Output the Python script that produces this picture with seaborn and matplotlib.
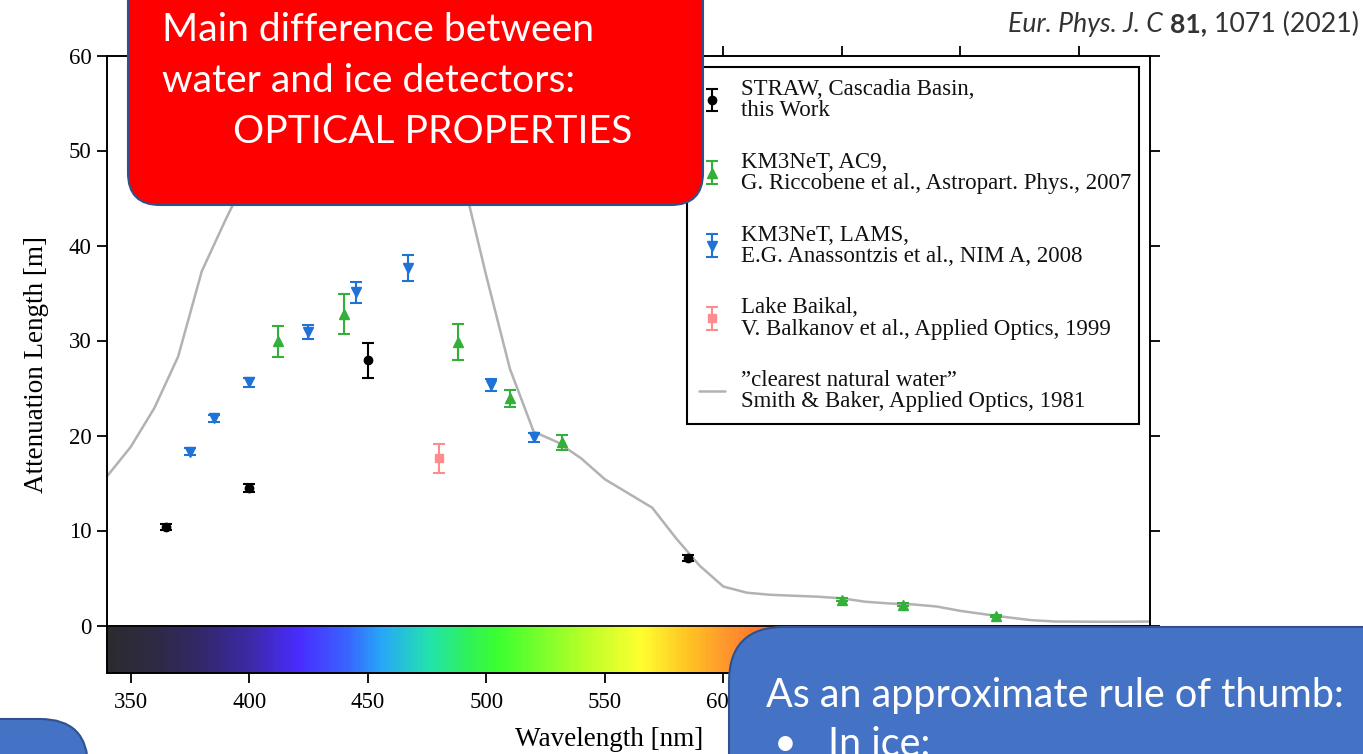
import numpy as np
import matplotlib
matplotlib.use("Agg")
import matplotlib.pyplot as plt
import seaborn as sns
from matplotlib.colors import LinearSegmentedColormap
from matplotlib.patches import FancyBboxPatch

# ---------------- data ----------------
curve_wl = list(range(340, 781, 10))
curve_len = [15.7, 18.8, 22.9, 28.3, 37.3, 42.7, 47.8, 51.0, 54.3, 58.1,
             58.8, 59.5, 56.5, 57.1, 51.8, 47.2, 36.8, 27.0, 20.4, 19.3,
             17.6, 15.4, 13.9, 12.4, 9.2, 6.3, 4.1, 3.45, 3.23, 3.13,
             3.03, 2.86, 2.50, 2.32, 2.22, 2.00, 1.54, 1.19, 0.86, 0.56,
             0.42, 0.41, 0.39, 0.40, 0.42]

straw_wl = [365, 400, 450, 585]
straw_len = [10.4, 14.5, 27.9, 7.1]
straw_err = [0.3, 0.4, 1.8, 0.3]

ac9_wl = [412, 440, 488, 510, 532, 650, 676, 715]
ac9_len = [29.9, 32.8, 29.8, 23.9, 19.3, 2.7, 2.2, 1.0]
ac9_err = [1.6, 2.1, 1.9, 0.9, 0.8, 0.15, 0.12, 0.1]

lams_wl = [375, 385, 400, 425, 445, 467, 502, 520]
lams_len = [18.3, 21.8, 25.6, 30.9, 35.1, 37.6, 25.3, 19.8]
lams_err = [0.35, 0.35, 0.5, 0.7, 1.1, 1.35, 0.6, 0.5]

baikal_wl = [480]
baikal_len = [17.6]
baikal_err = [1.5]

labels = [
    "STRAW, Cascadia Basin,\nthis Work",
    "KM3NeT, AC9,\nG. Riccobene et al., Astropart. Phys., 2007",
    "KM3NeT, LAMS,\nE.G. Anassontzis et al., NIM A, 2008",
    "Lake Baikal,\nV. Balkanov et al., Applied Optics, 1999",
    "\u201dclearest natural water\u201d\nSmith & Baker, Applied Optics, 1981",
]

x_ticks = [350, 400, 450, 500, 550, 600, 650, 700, 750]
y_ticks = [0, 10, 20, 30, 40, 50, 60]

spectrum_wl = [340, 360, 380, 400, 420, 440, 455, 475, 492, 505, 540, 565,
               585, 600, 620, 650, 700, 780]
spectrum_col = ['#2c2b30', '#2f2a45', '#33286e', '#3c2aa8', '#4a2cff', '#3a62ff',
                '#28a6f8', '#22e2b0', '#30f25a', '#3cff30', '#b4ff28', '#ffff30',
                '#ffc424', '#ff9a2c', '#ff6a30', '#ff3a22', '#e01414', '#8c1010']

box_title = ["Main difference between", "water and ice detectors:", "OPTICAL PROPERTIES"]
box_rule = "As an approximate rule of thumb:"
box_ice = "In ice:"
cite_parts = ["Eur. Phys. J. C", "81,", "1071 (2021)"]

# ---------------- style ----------------
sns.set_theme(style="ticks")
plt.rcParams['font.family'] = ['Liberation Serif', 'DejaVu Serif']

W, H = 1363, 754
fig = plt.figure(figsize=(W / 100, H / 100), dpi=100)
fig.patch.set_facecolor('white')
L, R, T, B = 107, 1150, 55.5, 673
ax = fig.add_axes([L / W, 1 - B / H, (R - L) / W, (B - T) / H])
ax.set_facecolor('white')

# spectrum band
cmap = LinearSegmentedColormap.from_list(
    'spec', [((w - 340) / 440, c) for w, c in zip(spectrum_wl, spectrum_col)])
ax.imshow(np.linspace(0, 1, 600)[None, :], extent=(340, 780, -5, 0),
          aspect='auto', cmap=cmap, zorder=0, interpolation='bilinear')
ax.axhline(0, color='black', lw=1.2, zorder=1)

# curve
sns.lineplot(x=curve_wl, y=curve_len, ax=ax, color='#b2b2b2', lw=1.8,
             zorder=2, legend=False)
h_curve = ax.lines[-1]

eb = dict(capsize=4, capthick=1.5, elinewidth=1.5, zorder=4, ls='none')
h_straw = ax.errorbar(straw_wl, straw_len, yerr=straw_err, fmt='o', color='black', ms=6, **eb)
h_ac9 = ax.errorbar(ac9_wl, ac9_len, yerr=ac9_err, fmt='^', color='#33b03a', ms=6.5, **eb)
h_lams = ax.errorbar(lams_wl, lams_len, yerr=lams_err, fmt='v', color='#1f72d6', ms=6.5, **eb)
h_baik = ax.errorbar(baikal_wl, baikal_len, yerr=baikal_err, fmt='s', color='#ff8c8c', ms=5.5, **eb)

ax.set_xlim(340, 780)
ax.set_ylim(-5, 60)
ax.set_xticks(x_ticks)
ax.set_yticks(y_ticks)
for s in ax.spines.values():
    s.set_linewidth(1.4)
    s.set_color('black')
ax.tick_params(axis='both', which='both', direction='out', top=True, right=True,
               length=7, width=1.3, labelsize=16.5, colors='black')
ax.tick_params(axis='x', pad=7)
ax.tick_params(axis='y', pad=4)
ax.set_xlabel('Wavelength [nm]', fontsize=19.5, color='black')
ax.set_ylabel('Attenuation Length [m]', fontsize=19.5, color='black')
ax.xaxis.set_label_coords(0.481, -0.087)
ax.yaxis.set_label_coords(-0.056, 0.5)

leg = ax.legend([h_straw, h_ac9, h_lams, h_baik, h_curve], labels,
                loc='upper left', bbox_to_anchor=(0.5561, 0.4146, 0.4334, 0.5668),
                mode='expand', borderaxespad=0, frameon=True, fancybox=False,
                edgecolor='black', framealpha=1, fontsize=16.5, handlelength=1.15,
                handletextpad=0.7, labelspacing=1.33, borderpad=0.52)
leg.get_frame().set_linewidth(1.5)
for t in leg.get_texts():
    t.set_linespacing(1.02)
    t.set_color('#111111')

# ---------------- slide overlay ----------------
ov = fig.add_axes([0, 0, 1, 1], zorder=10)
ov.set_xlim(0, W)
ov.set_ylim(H, 0)
ov.axis('off')
ov.patch.set_alpha(0)

ov.add_patch(FancyBboxPatch((128, -60), 575, 265, boxstyle='round,pad=0,rounding_size=32',
                            fc='#ff0000', ec='#2f528f', lw=1.5))
ov.add_patch(FancyBboxPatch((729, 627), 720, 220, boxstyle='round,pad=0,rounding_size=55',
                            fc='#4472c4', ec='#2f528f', lw=1.5))
ov.add_patch(FancyBboxPatch((-150, 719), 238, 120, boxstyle='round,pad=0,rounding_size=48',
                            fc='#4472c4', ec='#2f528f', lw=1.5))

rend = fig.canvas.get_renderer()


def fit(t, width):
    bb = t.get_window_extent(renderer=rend)
    t.set_fontsize(t.get_fontsize() * width / bb.width)
    return t.get_fontsize()


sans = ['Lato', 'DejaVu Sans']
t1 = ov.text(162, 40.7, box_title[0], color='white', family=sans, fontsize=28, va='baseline')
fs = fit(t1, 432)
ov.text(162, 91.7, box_title[1], color='white', family=sans, fontsize=fs, va='baseline')
ov.text(233, 142.7, box_title[2], color='white', family=sans, fontsize=fs, va='baseline')

tr = ov.text(766, 707, box_rule, color='white', family=sans, fontsize=28, va='baseline')
fs2 = fit(tr, 579)
ov.text(774, 756, "\u2022", color='white', family=sans, fontsize=fs2, va='baseline')
ov.text(828, 756, box_ice, color='white', family=sans, fontsize=fs2, va='baseline')

# citation
cfs = 15.5
styles = [dict(fontstyle='italic'), dict(fontweight='bold'), dict()]
cts = [ov.text(0, 31.7, p, color='#333333', family=sans, fontsize=cfs, va='baseline', **st)
       for p, st in zip(cite_parts, styles)]
ws = [t.get_window_extent(renderer=rend).width for t in cts]
gap = 0.26 * cfs * 100 / 72
scale = (1357 - 1008) / (sum(ws) + 2 * gap)
cfs *= scale
for t in cts:
    t.set_fontsize(cfs)
ws = [t.get_window_extent(renderer=rend).width for t in cts]
gap = 0.26 * cfs * 100 / 72
x = 1008
for t, w in zip(cts, ws):
    t.set_x(x)
    x += w + gap

fig.savefig('out.png', dpi=100, facecolor='white')
